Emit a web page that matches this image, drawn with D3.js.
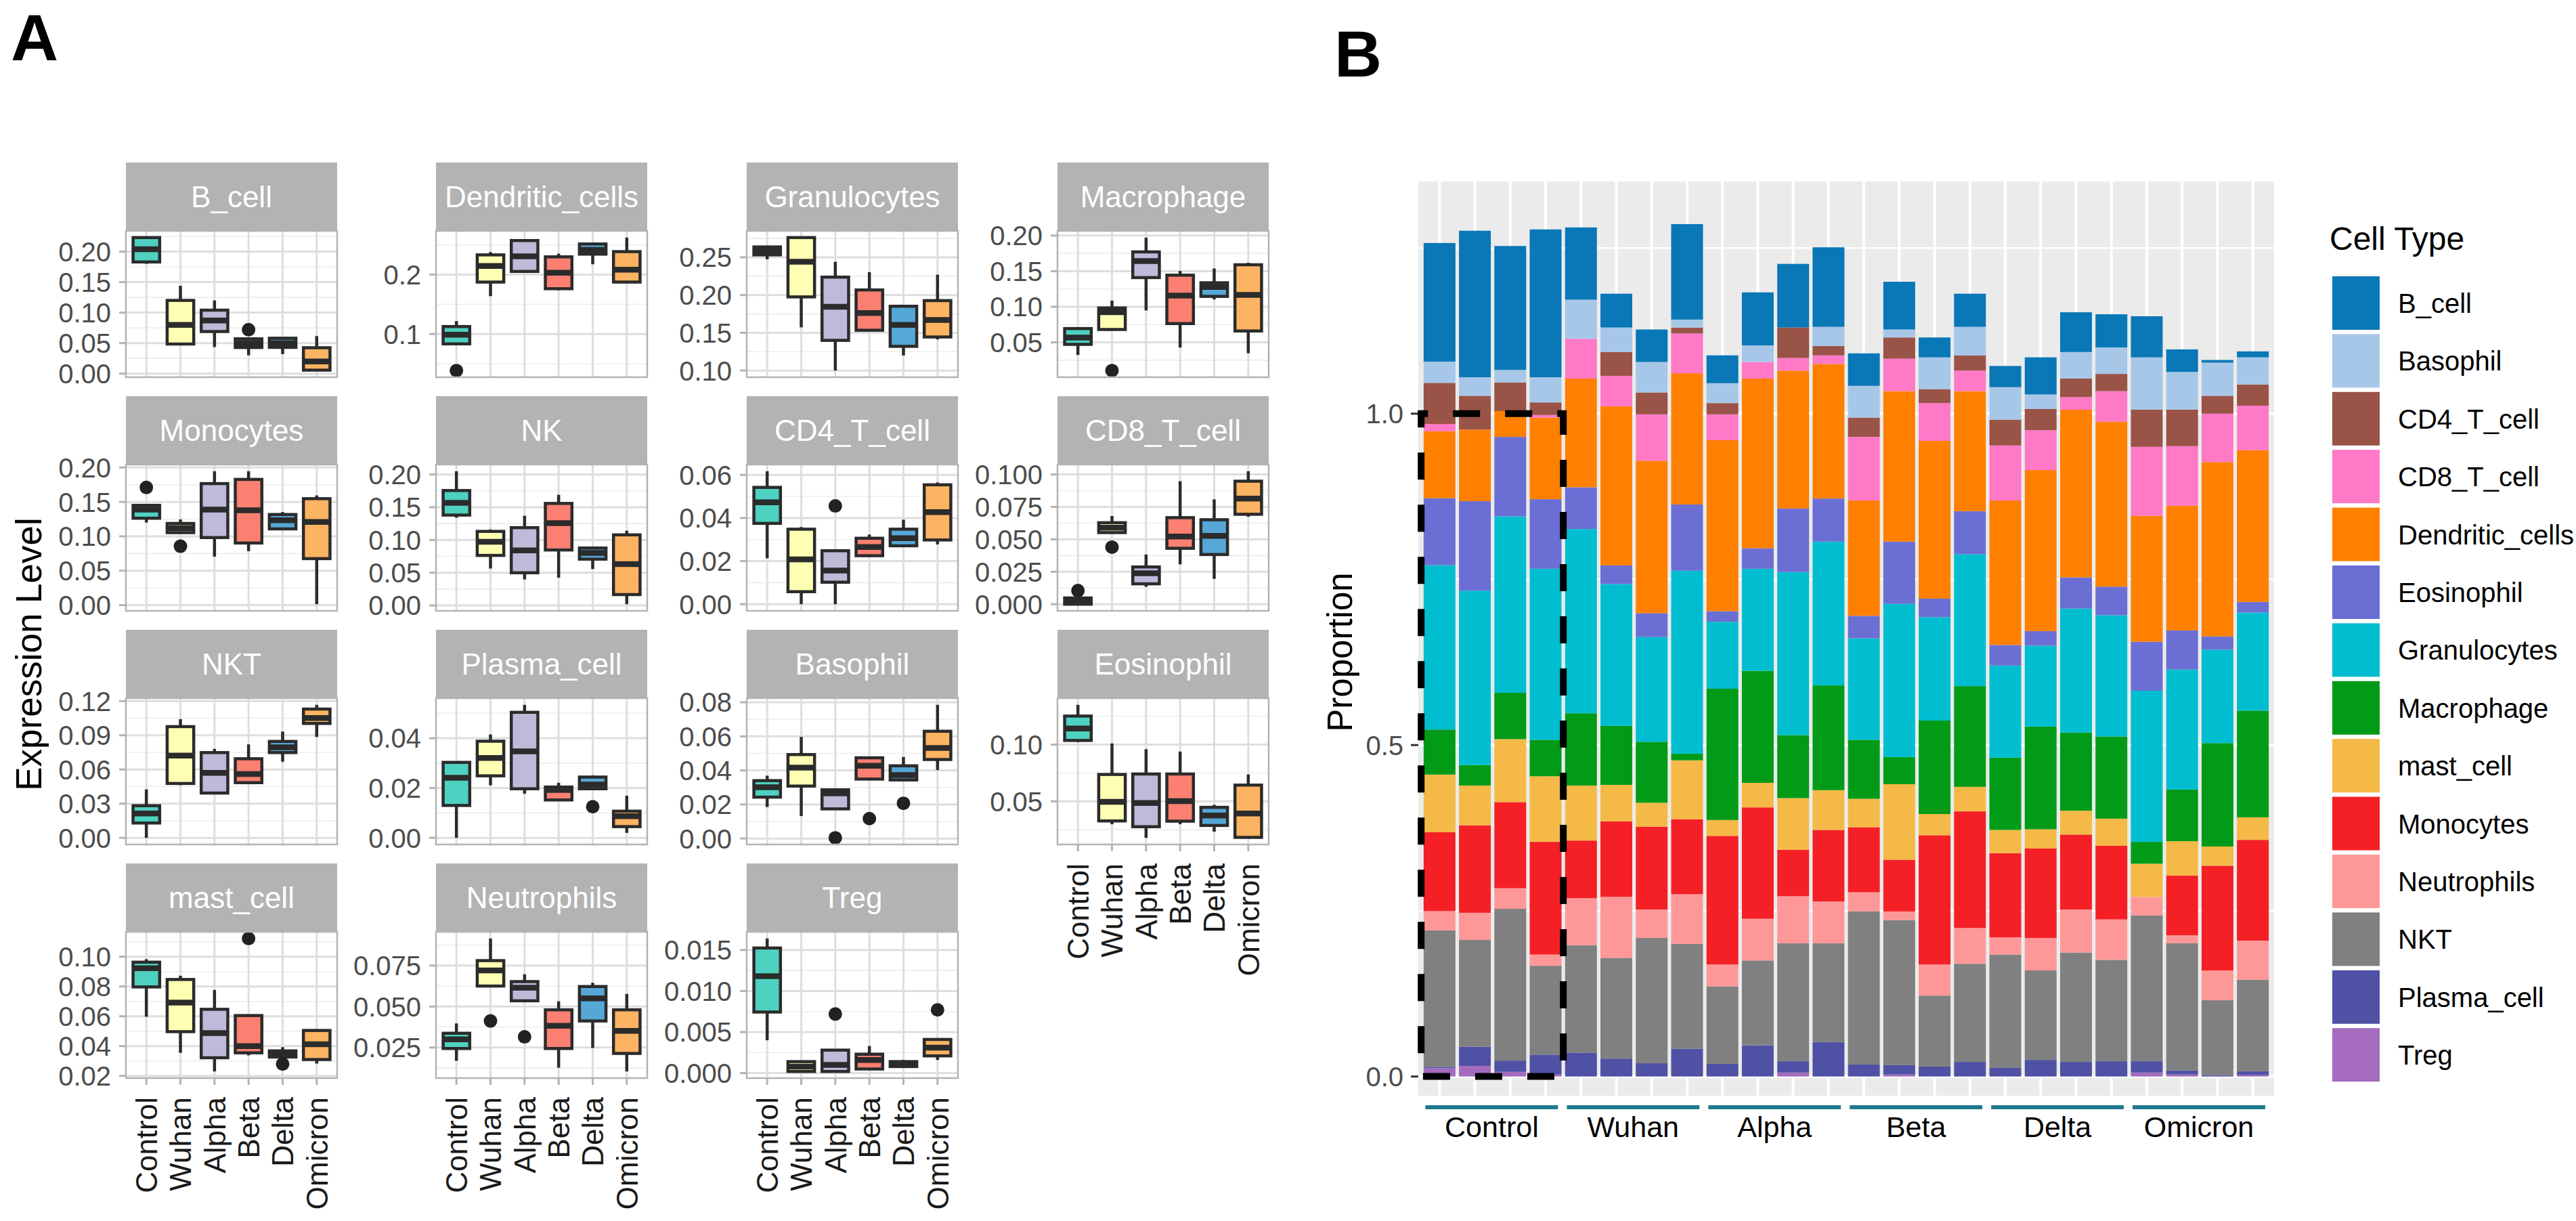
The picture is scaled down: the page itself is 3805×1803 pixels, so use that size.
<!DOCTYPE html>
<html><head><meta charset="utf-8">
<script src="https://cdn.jsdelivr.net/npm/d3@7"></script>
<style>
body{margin:0;background:#fff}
svg{display:block}
text{font-family:"Liberation Sans",Arial,Helvetica,sans-serif}
</style>
</head><body>
<svg id="c" width="3805" height="1803"></svg>
<script>
// ---------------- Panel A data ----------------
const groups = ["Control","Wuhan","Alpha","Beta","Delta","Omicron"];
const groupColors = ["#4ED1C0","#FFFFB3","#BEBADA","#FB8072","#55A7D6","#FDB462"];
const facetNames = ["B_cell","Dendritic_cells","Granulocytes","Macrophage","Monocytes","NK","CD4_T_cell","CD8_T_cell","NKT","Plasma_cell","Basophil","Eosinophil","mast_cell","Neutrophils","Treg"];
// each row: [lower whisker, Q1, median, Q3, upper whisker] for Control..Omicron
const B_cell_box = [[0.180,0.183,0.204,0.223,0.223],[0.0485,0.0485,0.080,0.120,0.144],[0.0436,0.069,0.087,0.104,0.120],[0.030,0.0428,0.050,0.057,0.057],[0.032,0.043,0.050,0.058,0.058],[0.005,0.0057,0.020,0.0424,0.0615]];
const Dendritic_cells_box = [[0.083,0.0833,0.0988,0.1125,0.1217],[0.1638,0.1875,0.2146,0.2333,0.238],[0.2033,0.2054,0.231,0.2575,0.2575],[0.1738,0.1763,0.2033,0.230,0.2354],[0.2175,0.2346,0.2417,0.2517,0.2517],[0.1875,0.1875,0.2083,0.2388,0.2625]];
const Granulocytes_box = [[0.2474,0.2533,0.2589,0.2638,0.2638],[0.1573,0.1976,0.2441,0.2762,0.2762],[0.100,0.140,0.1845,0.2238,0.2441],[0.1534,0.1534,0.1763,0.2068,0.2304],[0.120,0.1321,0.1606,0.1852,0.187],[0.1413,0.1445,0.1671,0.1927,0.2271]];
const Macrophage_box = [[0.0323,0.0472,0.0566,0.0694,0.0694],[0.0681,0.0681,0.0924,0.0983,0.1087],[0.0948,0.141,0.1642,0.1771,0.1972],[0.0427,0.0764,0.1156,0.1444,0.1503],[0.1104,0.1146,0.1278,0.1337,0.1538],[0.0347,0.066,0.1167,0.159,0.1618]];
const Monocytes_box = [[0.120,0.1263,0.1388,0.145,0.145],[0.1054,0.1054,0.112,0.1187,0.1245],[0.0705,0.0982,0.1388,0.1766,0.1946],[0.0784,0.0903,0.1378,0.1827,0.1946],[0.1108,0.1108,0.1234,0.1317,0.1353],[0.0014,0.0676,0.1209,0.1547,0.1594]];
const NK_box = [[0.134,0.138,0.1566,0.1755,0.205],[0.0564,0.0764,0.0972,0.1131,0.116],[0.0397,0.0499,0.084,0.1188,0.137],[0.0424,0.0847,0.1256,0.1558,0.169],[0.0556,0.0707,0.0802,0.0877,0.0877],[0.0019,0.0166,0.0632,0.1078,0.1142]];
const CD4_T_cell_box = [[0.0213,0.0375,0.0473,0.0542,0.0617],[0.0,0.0058,0.0208,0.0348,0.0358],[0.0,0.0102,0.0156,0.0248,0.0248],[0.0219,0.0225,0.0265,0.0306,0.0323],[0.0271,0.0271,0.0306,0.0348,0.0392],[0.0277,0.0298,0.0427,0.0554,0.0565]];
const CD8_T_cell_box = [[0.0,0.0,0.0019,0.0048,0.0048],[0.0552,0.0552,0.059,0.0628,0.068],[0.0134,0.0157,0.0239,0.0287,0.0383],[0.0307,0.0431,0.0521,0.0667,0.0948],[0.0195,0.0383,0.0527,0.0651,0.0808],[0.0674,0.0693,0.0814,0.0948,0.1025]];
const NKT_box = [[0.0,0.013,0.0213,0.0282,0.0425],[0.0462,0.0477,0.0722,0.0976,0.1041],[0.0386,0.0393,0.057,0.0748,0.0781],[0.0484,0.0484,0.056,0.0694,0.082],[0.0668,0.0748,0.0794,0.0846,0.0933],[0.0885,0.1004,0.1052,0.113,0.1167]];
const Plasma_cell_box = [[0.0,0.013,0.0241,0.0303,0.0306],[0.0211,0.0249,0.0321,0.0388,0.0415],[0.0177,0.0197,0.0347,0.0504,0.0534],[0.0152,0.0152,0.0192,0.0204,0.0221],[0.0197,0.0197,0.0214,0.0244,0.0251],[0.002,0.0045,0.0087,0.0107,0.0169]];
const Basophil_box = [[0.0185,0.0243,0.0301,0.034,0.0369],[0.0132,0.0308,0.0416,0.0493,0.0597],[0.0174,0.0174,0.0265,0.0286,0.0286],[0.0349,0.0349,0.0427,0.0474,0.0474],[0.0344,0.0344,0.0373,0.0427,0.0479],[0.0402,0.0464,0.0532,0.063,0.0785]];
const Eosinophil_box = [[0.1022,0.1037,0.1143,0.1252,0.1351],[0.0298,0.0327,0.0496,0.0737,0.1011],[0.0178,0.0276,0.0485,0.0741,0.096],[0.0298,0.0325,0.0502,0.0741,0.0939],[0.0232,0.0287,0.0375,0.0447,0.0469],[0.0182,0.0182,0.0393,0.0643,0.0737]];
const mast_cell_box = [[0.0597,0.0797,0.0922,0.0963,0.0983],[0.0355,0.0497,0.0692,0.0847,0.0872],[0.023,0.0322,0.0488,0.0647,0.0777],[0.0338,0.0355,0.040,0.0605,0.0605],[0.0327,0.0327,0.035,0.0368,0.0393],[0.0283,0.031,0.0413,0.0505,0.0513]];
const Neutrophils_box = [[0.0169,0.0244,0.030,0.0337,0.0397],[0.0625,0.0625,0.072,0.078,0.0915],[0.0535,0.0535,0.0615,0.0652,0.0697],[0.0127,0.0244,0.0382,0.048,0.0532],[0.0247,0.0412,0.055,0.0622,0.0645],[0.0104,0.0214,0.0352,0.048,0.0577]];
const Treg_box = [[0.0040,0.00744,0.0118,0.01524,0.0164],[0.0002,0.0002,0.0008,0.0014,0.0014],[0.0002,0.0002,0.001,0.0028,0.0028],[0.0004,0.0005,0.0016,0.0023,0.0033],[0.0008,0.0008,0.0011,0.0014,0.0016],[0.0016,0.0021,0.0031,0.0041,0.0041]];
const outliers = [["B_cell","Beta",0.072],["Dendritic_cells","Control",0.0383],["Monocytes","Control",0.171],["Monocytes","Wuhan",0.0856],["Macrophage","Wuhan",0.0104],["CD4_T_cell","Alpha",0.0456],["CD8_T_cell","Control",0.0105],["CD8_T_cell","Wuhan",0.044],["Plasma_cell","Delta",0.0125],["Basophil","Alpha",0.0004],["Basophil","Beta",0.0117],["Basophil","Delta",0.0207],["mast_cell","Beta",0.1122],["mast_cell","Delta",0.028],["Neutrophils","Wuhan",0.0412],["Neutrophils","Alpha",0.0315],["Treg","Alpha",0.0072],["Treg","Omicron",0.0077]];
const yBreaks = [[0,0.05,0.10,0.15,0.20],[0.1,0.2],[0.10,0.15,0.20,0.25],[0.05,0.10,0.15,0.20],[0,0.05,0.10,0.15,0.20],[0,0.05,0.10,0.15,0.20],[0,0.02,0.04,0.06],[0,0.025,0.05,0.075,0.1],[0,0.03,0.06,0.09,0.12],[0,0.02,0.04],[0,0.02,0.04,0.06,0.08],[0.05,0.10],[0.02,0.04,0.06,0.08,0.10],[0.025,0.05,0.075],[0,0.005,0.01,0.015]];
const yDecimals = [2,1,2,2,2,2,2,3,2,2,2,2,2,3,3];

// ---------------- Panel B data ----------------
const sampleGroups = ["Control","Control","Control","Control","Wuhan","Wuhan","Wuhan","Wuhan","Alpha","Alpha","Alpha","Alpha","Beta","Beta","Beta","Beta","Delta","Delta","Delta","Delta","Omicron","Omicron","Omicron","Omicron"];
const cellTypes = ["B_cell","Basophil","CD4_T_cell","CD8_T_cell","Dendritic_cells","Eosinophil","Granulocytes","Macrophage","mast_cell","Monocytes","Neutrophils","NKT","Plasma_cell","Treg"];
const cellColors = ["#0A77B7","#A7C7E8","#9A5347","#FF79C6","#FF8000","#6B6FD3","#00BED0","#029B18","#F5B947","#F42025","#FE9898","#808080","#4F51A5","#A46BBF"];
const prop_B_cell = [0.179,0.221,0.187,0.223,0.109,0.051,0.049,0.144,0.042,0.080,0.096,0.120,0.049,0.072,0.030,0.050,0.032,0.056,0.060,0.050,0.062,0.034,0.004,0.009];
const prop_Basophil = [0.032,0.028,0.019,0.038,0.059,0.037,0.046,0.012,0.030,0.025,0.000,0.029,0.048,0.012,0.048,0.043,0.049,0.022,0.040,0.040,0.079,0.057,0.050,0.041];
const prop_CD4_T_cell = [0.062,0.051,0.043,0.019,0.000,0.036,0.033,0.009,0.017,0.000,0.046,0.014,0.029,0.032,0.021,0.023,0.039,0.032,0.028,0.026,0.056,0.055,0.027,0.032];
const prop_CD8_T_cell = [0.011,0.000,0.000,0.004,0.060,0.046,0.070,0.060,0.039,0.025,0.019,0.013,0.096,0.049,0.057,0.031,0.083,0.060,0.019,0.046,0.104,0.090,0.073,0.067];
const prop_Dendritic_cells = [0.101,0.108,0.039,0.123,0.164,0.240,0.230,0.198,0.258,0.256,0.208,0.203,0.174,0.227,0.238,0.181,0.218,0.243,0.253,0.249,0.190,0.188,0.263,0.229];
const prop_Eosinophil = [0.101,0.135,0.120,0.105,0.063,0.028,0.036,0.100,0.016,0.031,0.096,0.065,0.034,0.094,0.028,0.065,0.031,0.022,0.047,0.043,0.074,0.059,0.020,0.016];
const prop_Granulocytes = [0.248,0.263,0.266,0.258,0.278,0.214,0.158,0.276,0.101,0.154,0.246,0.217,0.153,0.231,0.156,0.199,0.139,0.122,0.187,0.183,0.228,0.181,0.141,0.148];
const prop_Macrophage = [0.068,0.031,0.070,0.055,0.109,0.089,0.092,0.010,0.198,0.169,0.095,0.158,0.089,0.041,0.141,0.152,0.109,0.155,0.118,0.124,0.033,0.078,0.156,0.161];
const prop_mast_cell = [0.087,0.060,0.095,0.099,0.083,0.055,0.036,0.089,0.024,0.037,0.078,0.060,0.043,0.114,0.032,0.037,0.035,0.029,0.036,0.041,0.050,0.052,0.029,0.034];
const prop_Monocytes = [0.119,0.132,0.130,0.170,0.087,0.114,0.125,0.113,0.194,0.168,0.070,0.108,0.098,0.078,0.195,0.176,0.127,0.135,0.113,0.111,0.000,0.090,0.158,0.152];
const prop_Neutrophils = [0.029,0.041,0.031,0.017,0.071,0.092,0.043,0.075,0.033,0.063,0.071,0.063,0.029,0.013,0.047,0.054,0.026,0.049,0.065,0.061,0.028,0.012,0.045,0.059];
const prop_NKT = [0.206,0.161,0.229,0.134,0.162,0.152,0.189,0.158,0.117,0.128,0.178,0.149,0.231,0.219,0.107,0.148,0.171,0.135,0.165,0.153,0.220,0.192,0.113,0.138];
const prop_Plasma_cell = [0.002,0.029,0.017,0.030,0.036,0.027,0.020,0.042,0.019,0.047,0.017,0.052,0.018,0.014,0.015,0.022,0.013,0.025,0.022,0.023,0.017,0.006,0.002,0.006];
const prop_Treg = [0.0125,0.016,0.007,0.003,0,0,0,0,0,0,0.006,0,0,0.003,0,0,0,0,0,0,0.006,0.003,0,0.002];
const propTicks = [0, 0.5, 1.0];

// ---------------- drawing ----------------
const svg = d3.select("#c");
const facetBoxes = [B_cell_box,Dendritic_cells_box,Granulocytes_box,Macrophage_box,Monocytes_box,NK_box,CD4_T_cell_box,CD8_T_cell_box,NKT_box,Plasma_cell_box,Basophil_box,Eosinophil_box,mast_cell_box,Neutrophils_box,Treg_box];
const colLeft = [186,644,1103,1562], rowTop = [240,585,930,1275];
const PW = 312, STRIP = 101, PH = 216;
const bottomFacets = ["Eosinophil","mast_cell","Neutrophils","Treg"];
const colorOf = d3.scaleOrdinal().domain(groups).range(groupColors);

svg.append("text").attr("x",16).attr("y",89).attr("font-size",97).attr("font-weight","bold").attr("fill","#000").text("A");
svg.append("text").attr("x",1971).attr("y",113).attr("font-size",97).attr("font-weight","bold").attr("fill","#000").text("B");

svg.append("text").attr("transform","translate(61,966) rotate(-90)").attr("text-anchor","middle")
  .attr("font-size",53).attr("fill","#000").text("Expression Level");

facetNames.forEach((name,i)=>{
  const r = Math.floor(i/4), c = i%4;
  const x0 = colLeft[c], yTop = rowTop[r], y0 = yTop + STRIP;
  const g = svg.append("g");
  g.append("rect").attr("x",x0).attr("y",yTop).attr("width",PW).attr("height",STRIP).attr("fill","#B3B3B3");
  g.append("text").attr("x",x0+PW/2).attr("y",yTop+STRIP/2).attr("dy","0.36em").attr("text-anchor","middle")
    .attr("fill","#fff").attr("font-size",44).text(name);
  const stats = facetBoxes[i];
  const outs = outliers.filter(o=>o[0]===name);
  const vals = stats.flat().concat(outs.map(o=>o[2]));
  const lo = d3.min(vals), hi = d3.max(vals), pad = (hi-lo)*0.05;
  const y = d3.scaleLinear().domain([lo-pad, hi+pad]).range([y0+PH, y0]);
  const x = d3.scalePoint().domain(groups).range([x0, x0+PW]).padding(0.6);
  const step = x.step();
  g.append("rect").attr("x",x0).attr("y",y0).attr("width",PW).attr("height",PH).attr("fill","#fff");
  const br = yBreaks[i], bs = br[1]-br[0];
  const dom = y.domain();
  const minor = [];
  for (let v = br[0]-bs/2; v <= dom[1]; v += bs) if (v >= dom[0]) minor.push(v);
  g.selectAll(null).data(minor).join("line")
    .attr("x1",x0).attr("x2",x0+PW).attr("y1",d=>y(d)).attr("y2",d=>y(d))
    .attr("stroke","#EDEDED").attr("stroke-width",1.6);
  g.selectAll(null).data(br).join("line")
    .attr("x1",x0).attr("x2",x0+PW).attr("y1",d=>y(d)).attr("y2",d=>y(d))
    .attr("stroke","#DEDEDE").attr("stroke-width",3);
  g.selectAll(null).data(groups).join("line")
    .attr("x1",d=>x(d)).attr("x2",d=>x(d)).attr("y1",y0).attr("y2",y0+PH)
    .attr("stroke","#DEDEDE").attr("stroke-width",3);
  // y axis
  const fmt = d3.format("."+yDecimals[i]+"f");
  g.selectAll(null).data(br).join("line")
    .attr("x1",x0-10).attr("x2",x0).attr("y1",d=>y(d)).attr("y2",d=>y(d))
    .attr("stroke","#B3B3B3").attr("stroke-width",3);
  g.selectAll(null).data(br).join("text")
    .attr("x",x0-22).attr("y",d=>y(d)).attr("dy","0.36em").attr("text-anchor","end")
    .attr("font-size",40).attr("fill","#4D4D4D").text(d=>fmt(d));
  // boxes
  const bw = step*0.78;
  stats.forEach((s,k)=>{
    const cx = x(groups[k]);
    const bg = g.append("g").attr("stroke","#2B2B2B");
    bg.append("line").attr("x1",cx).attr("x2",cx).attr("y1",y(s[4])).attr("y2",y(s[3])).attr("stroke-width",4.5);
    bg.append("line").attr("x1",cx).attr("x2",cx).attr("y1",y(s[1])).attr("y2",y(s[0])).attr("stroke-width",4.5);
    bg.append("rect").attr("x",cx-bw/2).attr("width",bw).attr("y",y(s[3])).attr("height",Math.max(0.5,y(s[1])-y(s[3])))
      .attr("fill",colorOf(groups[k])).attr("stroke-width",4.5);
    bg.append("line").attr("x1",cx-bw/2).attr("x2",cx+bw/2).attr("y1",y(s[2])).attr("y2",y(s[2])).attr("stroke-width",8.5);
  });
  g.selectAll(null).data(outs).join("circle")
    .attr("cx",d=>x(d[1])).attr("cy",d=>y(d[2])).attr("r",10).attr("fill","#222");
  g.append("rect").attr("x",x0).attr("y",y0).attr("width",PW).attr("height",PH)
    .attr("fill","none").attr("stroke","#B3B3B3").attr("stroke-width",2.5);
  if (bottomFacets.includes(name)) {
    g.selectAll(null).data(groups).join("line")
      .attr("x1",d=>x(d)).attr("x2",d=>x(d)).attr("y1",y0+PH).attr("y2",y0+PH+10)
      .attr("stroke","#B3B3B3").attr("stroke-width",3);
    g.selectAll(null).data(groups).join("text")
      .attr("transform",d=>`translate(${x(d)},${y0+PH+28}) rotate(-90)`)
      .attr("dy","0.36em").attr("text-anchor","end").attr("font-size",44).attr("fill","#1A1A1A").text(d=>d);
  }
});

// ---------------- Panel B ----------------
const propArrays = [prop_B_cell,prop_Basophil,prop_CD4_T_cell,prop_CD8_T_cell,prop_Dendritic_cells,prop_Eosinophil,prop_Granulocytes,prop_Macrophage,prop_mast_cell,prop_Monocytes,prop_Neutrophils,prop_NKT,prop_Plasma_cell,prop_Treg];
const rows = sampleGroups.map((gname,j)=>{
  const o = {id:j, group:gname};
  cellTypes.forEach((ct,k)=>{ o[ct] = propArrays[k][j]; });
  return o;
});
const stackKeys = cellTypes.slice().reverse();
const series = d3.stack().keys(stackKeys)(rows);
const maxTotal = d3.max(rows, r=>d3.sum(cellTypes, ct=>r[ct]));
const PX0 = 2095, PX1 = 3359, PY0 = 268, PY1 = 1618;
const xb = d3.scalePoint().domain(rows.map(r=>r.id)).range([PX0,PX1]).padding(0.6);
const yb = d3.scaleLinear().domain([-0.029, maxTotal*1.05]).range([PY1,PY0]);
const cellColor = d3.scaleOrdinal().domain(cellTypes).range(cellColors);
const gb = svg.append("g");
gb.append("rect").attr("x",PX0).attr("y",PY0).attr("width",PX1-PX0).attr("height",PY1-PY0).attr("fill","#EBEBEB");
const minorB = [0.25,0.75,1.25];
gb.selectAll(null).data(minorB).join("line").attr("x1",PX0).attr("x2",PX1).attr("y1",d=>yb(d)).attr("y2",d=>yb(d))
  .attr("stroke","#fff").attr("stroke-width",2.5);
gb.selectAll(null).data(propTicks).join("line").attr("x1",PX0).attr("x2",PX1).attr("y1",d=>yb(d)).attr("y2",d=>yb(d))
  .attr("stroke","#fff").attr("stroke-width",4.5);
gb.selectAll(null).data(rows).join("line").attr("x1",d=>xb(d.id)).attr("x2",d=>xb(d.id)).attr("y1",PY0).attr("y2",PY1)
  .attr("stroke","#fff").attr("stroke-width",4);
const bwB = xb.step()*0.9;
series.forEach(s=>{
  gb.append("g").attr("fill",cellColor(s.key)).selectAll("rect").data(s).join("rect")
    .attr("x",d=>xb(d.data.id)-bwB/2).attr("width",bwB)
    .attr("y",d=>yb(d[1])).attr("height",d=>Math.max(0,yb(d[0])-yb(d[1])));
});
// y axis
gb.selectAll(null).data(propTicks).join("line").attr("x1",PX0-11).attr("x2",PX0).attr("y1",d=>yb(d)).attr("y2",d=>yb(d))
  .attr("stroke","#333").attr("stroke-width",3);
gb.selectAll(null).data(propTicks).join("text").attr("x",PX0-22).attr("y",d=>yb(d)).attr("dy","0.36em").attr("text-anchor","end")
  .attr("font-size",40).attr("fill","#4D4D4D").text(d=>d3.format(".1f")(d));
svg.append("text").attr("transform","translate(1997,963) rotate(-90)").attr("text-anchor","middle")
  .attr("font-size",51).attr("fill","#000").text("Proportion");
// dashed box round Control samples
const ctrl = rows.filter(r=>r.group==="Control");
const dx0 = xb(ctrl[0].id)-xb.step()*0.52, dx1 = xb(ctrl[ctrl.length-1].id)+xb.step()*0.5;
gb.append("rect").attr("x",dx0).attr("y",yb(1.0)).attr("width",dx1-dx0).attr("height",yb(0)-yb(1.0))
  .attr("fill","none").attr("stroke","#000").attr("stroke-width",10).attr("stroke-dasharray","40,37").attr("stroke-dashoffset",30);
// group underline + labels
groups.forEach(gname=>{
  const mem = rows.filter(r=>r.group===gname);
  const a = xb(mem[0].id)-xb.step()*0.4, b = xb(mem[mem.length-1].id)+xb.step()*0.35;
  gb.append("line").attr("x1",a).attr("x2",b).attr("y1",1635).attr("y2",1635).attr("stroke","#1F7A8E").attr("stroke-width",6);
  gb.append("text").attr("x",(a+b)/2).attr("y",1679).attr("text-anchor","middle").attr("font-size",43).attr("fill","#000").text(gname);
});
// legend
const lg = svg.append("g");
lg.append("text").attr("x",3441).attr("y",369).attr("font-size",48).attr("fill","#000").text("Cell Type");
cellTypes.forEach((ct,k)=>{
  const ky = 408 + k*85.4;
  lg.append("rect").attr("x",3445).attr("y",ky).attr("width",70).attr("height",79).attr("fill",cellColor(ct));
  lg.append("text").attr("x",3542).attr("y",ky+39.5).attr("dy","0.36em").attr("font-size",40).attr("fill","#000").text(ct);
});
</script>
</body></html>
